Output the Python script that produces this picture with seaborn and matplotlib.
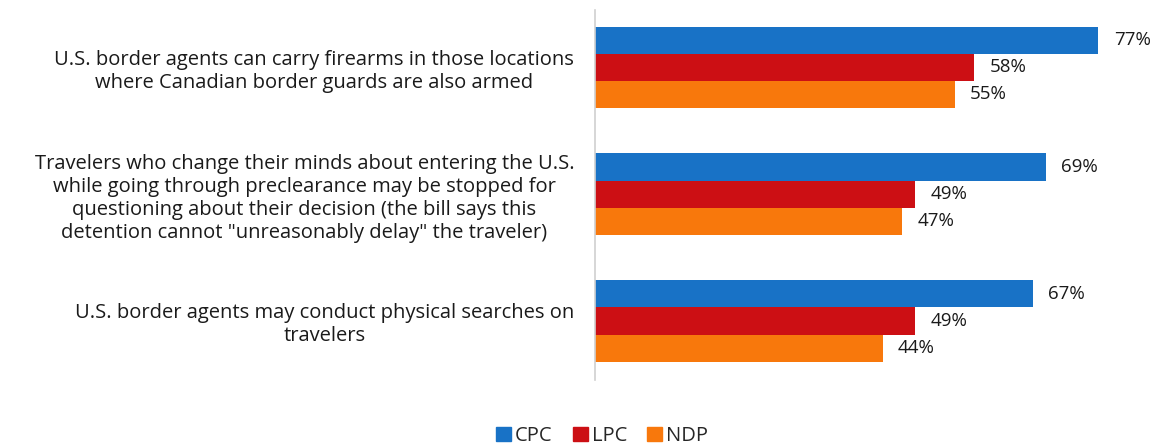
import pandas as pd
import matplotlib
matplotlib.use('Agg')
import matplotlib.pyplot as plt
import seaborn as sns

# Chart data
statements = [
    'U.S. border agents can carry firearms in those locations\nwhere Canadian border guards are also armed',
    'Travelers who change their minds about entering the U.S.\nwhile going through preclearance may be stopped for\nquestioning about their decision (the bill says this\ndetention cannot "unreasonably delay" the traveler)',
    'U.S. border agents may conduct physical searches on\ntravelers',
]
parties = ['CPC', 'LPC', 'NDP']
cpc = [77, 69, 67]
lpc = [58, 49, 49]
ndp = [55, 47, 44]
colors = ['#1872c6', '#cc0f14', '#f8780c']

df = pd.DataFrame({
    'statement': statements * 3,
    'party': [p for p in parties for _ in statements],
    'pct': cpc + lpc + ndp,
})

sns.set_style('white')
plt.rcParams['font.family'] = ['Open Sans', 'DejaVu Sans']

fig = plt.figure(figsize=(11.58, 4.44), dpi=100)
W, H = 1158, 444
ax = fig.add_axes([595 / W, 1 - 380 / H, 523 / W, 370 / H])

sns.barplot(data=df, y='statement', x='pct', hue='party', hue_order=parties,
            order=statements, palette=colors, saturation=1, width=0.64, orient='h',
            edgecolor='none', ax=ax, legend=False)

for cont in ax.containers:
    ax.bar_label(cont, fmt='%d%%', padding=11, fontsize=13.5, color='#1a1a1a')

ax.set_xlim(0, 80)
ax.set_ylim(2.465, -0.45)
ax.set_xlabel('')
ax.set_ylabel('')
ax.set_xticks([])
ax.tick_params(axis='y', length=0, pad=15)
ax.set_yticklabels(statements, fontsize=14.5, multialignment='center',
                   color='#1a1a1a', linespacing=1.2)
for s in ['top', 'right', 'bottom']:
    ax.spines[s].set_visible(False)
ax.spines['left'].set_color('#d0d0d0')
ax.spines['left'].set_linewidth(1.2)

handles = [plt.Rectangle((0, 0), 1, 1, color=c) for c in colors]
fig.legend(handles, parties, loc='center', bbox_to_anchor=(602 / W, 1 - 436 / H),
           ncol=3, frameon=False, fontsize=14.5, handlelength=0.75, handleheight=0.75,
           handletextpad=0.2, columnspacing=1.0, borderpad=0)

fig.savefig('out.png', dpi=100)
